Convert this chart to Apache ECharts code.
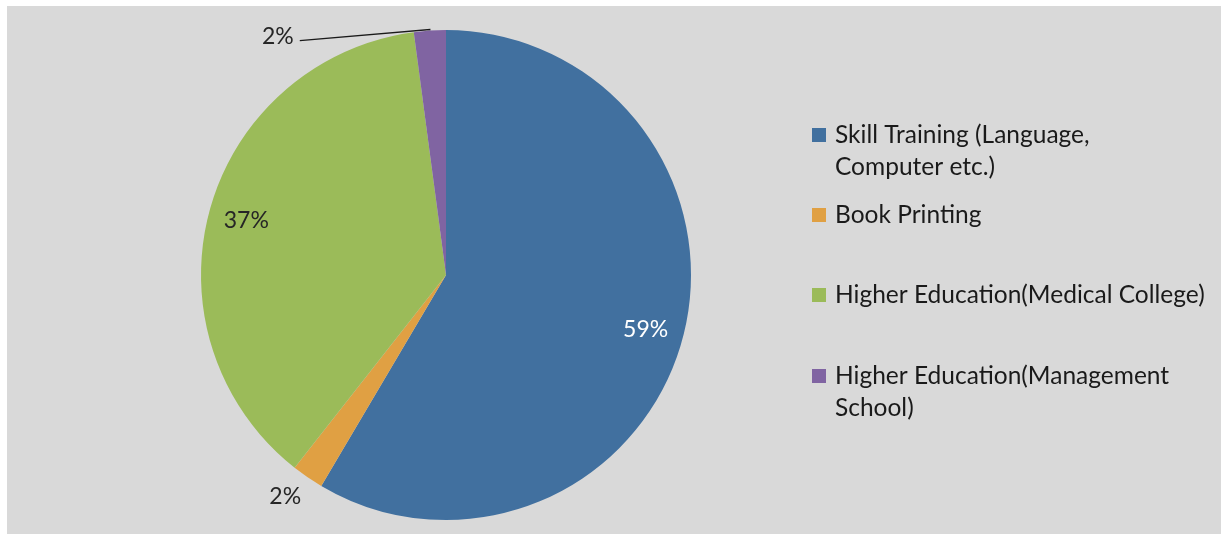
<!DOCTYPE html>
<html>
<head>
<meta charset="utf-8">
<script src="https://cdn.jsdelivr.net/npm/echarts@6/dist/echarts.min.js"></script>
<style>
  html, body { margin: 0; padding: 0; background: #ffffff; }
  #bg { position: absolute; left: 7px; top: 6px; right: 0; bottom: 0; background: #d9d9d9; }
  #chart { position: absolute; left: 0; top: 0; width: 1221px; height: 534px; }
</style>
</head>
<body>
<div id="bg"></div>
<div id="chart"></div>
<script>
// ---- data ----
const categories = [
  'Skill Training (Language, Computer etc.)',
  'Book Printing',
  'Higher Education(Medical College)',
  'Higher Education(Management School)'
];
const shares = [58.5, 2.1, 37.3, 2.1];
const legendLabels = [
  'Skill Training (Language,\nComputer etc.)',
  'Book Printing',
  'Higher Education(Medical College)',
  'Higher Education(Management\nSchool)'
];

// ---- styles / layout ----
const colors = ['#41709f', '#e0a043', '#9bbb59', '#8064a2'];
const FONT = 'Lato';
const FS = 23;
const LFS = 24.5;
const LH = 32;
const CX = 446, CY = 275, R = 245;
const legendCenters = [135, 215, 295, 376];
const insideIdx = [0, 2];
const insideColors = { 0: '#ffffff', 2: '#262626' };

const mainData = categories.map((name, i) => {
  const item = { name: name, value: shares[i], itemStyle: { color: colors[i] } };
  if (i === 1) {
    item.label = { show: true, distanceToLabelLine: 0 };
    item.labelLine = { show: false, length: 24, length2: 0 };
  } else if (i === 3) {
    item.label = { show: true, distanceToLabelLine: 6 };
    item.labelLine = { show: true, length: 1, length2: 130,
      lineStyle: { color: '#1a1a1a', width: 1.3 } };
  } else {
    item.label = { show: false };
    item.labelLine = { show: false };
  }
  return item;
});

const ringData = categories.map((name, i) => ({
  name: name,
  value: shares[i],
  label: insideIdx.includes(i)
    ? { show: true, color: insideColors[i] }
    : { show: false }
}));

const legends = categories.map((name, i) => {
  const txt = legendLabels[i].includes('\n') ? '\n' + legendLabels[i] : legendLabels[i];
  const nLines = txt.split('\n').length;
  return {
    orient: 'vertical',
    left: 812,
    top: legendCenters[i] - nLines * LH / 2,
    padding: 0,
    icon: 'rect',
    itemWidth: 14,
    itemHeight: 14,
    selectedMode: false,
    data: [name],
    formatter: () => txt,
    itemStyle: { borderWidth: 0 },
    textStyle: {
      fontFamily: FONT, fontSize: LFS, lineHeight: LH, color: '#1a1a1a',
      padding: [0, 0, 0, 4]
    }
  };
});

const chart = echarts.init(document.getElementById('chart'), null, { renderer: 'canvas' });
chart.setOption({
  animation: false,
  backgroundColor: 'transparent',
  legend: legends,
  series: [
    {
      type: 'pie',
      center: [CX, CY],
      radius: [0, R],
      startAngle: 90,
      clockwise: true,
      avoidLabelOverlap: false,
      percentPrecision: 0,
      silent: true,
      itemStyle: { borderWidth: 0 },
      emphasis: { disabled: true },
      label: {
        position: 'outside',
        formatter: '{d}%',
        fontFamily: FONT, fontSize: FS, color: '#262626'
      },
      labelLine: { minTurnAngle: 0, maxSurfaceAngle: 180 },
      labelLayout: function (p) {
        if (p.dataIndex === 1) {
          return { dx: 7 };
        }
        if (p.dataIndex === 3 && p.labelLinePoints) {
          const pts = p.labelLinePoints;
          const drop = 11;
          return {
            dy: 7,
            labelLinePoints: [pts[0], pts[1], [pts[2][0], pts[2][1] + drop]]
          };
        }
        return {};
      },
      data: mainData
    },
    {
      type: 'pie',
      center: [CX, CY],
      radius: [163, R],
      startAngle: 90,
      clockwise: true,
      avoidLabelOverlap: false,
      percentPrecision: 0,
      silent: true,
      legendHoverLink: false,
      itemStyle: { color: 'rgba(0,0,0,0)', borderWidth: 0 },
      emphasis: { disabled: true },
      label: {
        position: 'inside',
        formatter: '{d}%',
        fontFamily: FONT, fontSize: FS
      },
      labelLine: { show: false },
      data: ringData
    }
  ]
});
</script>
</body>
</html>
